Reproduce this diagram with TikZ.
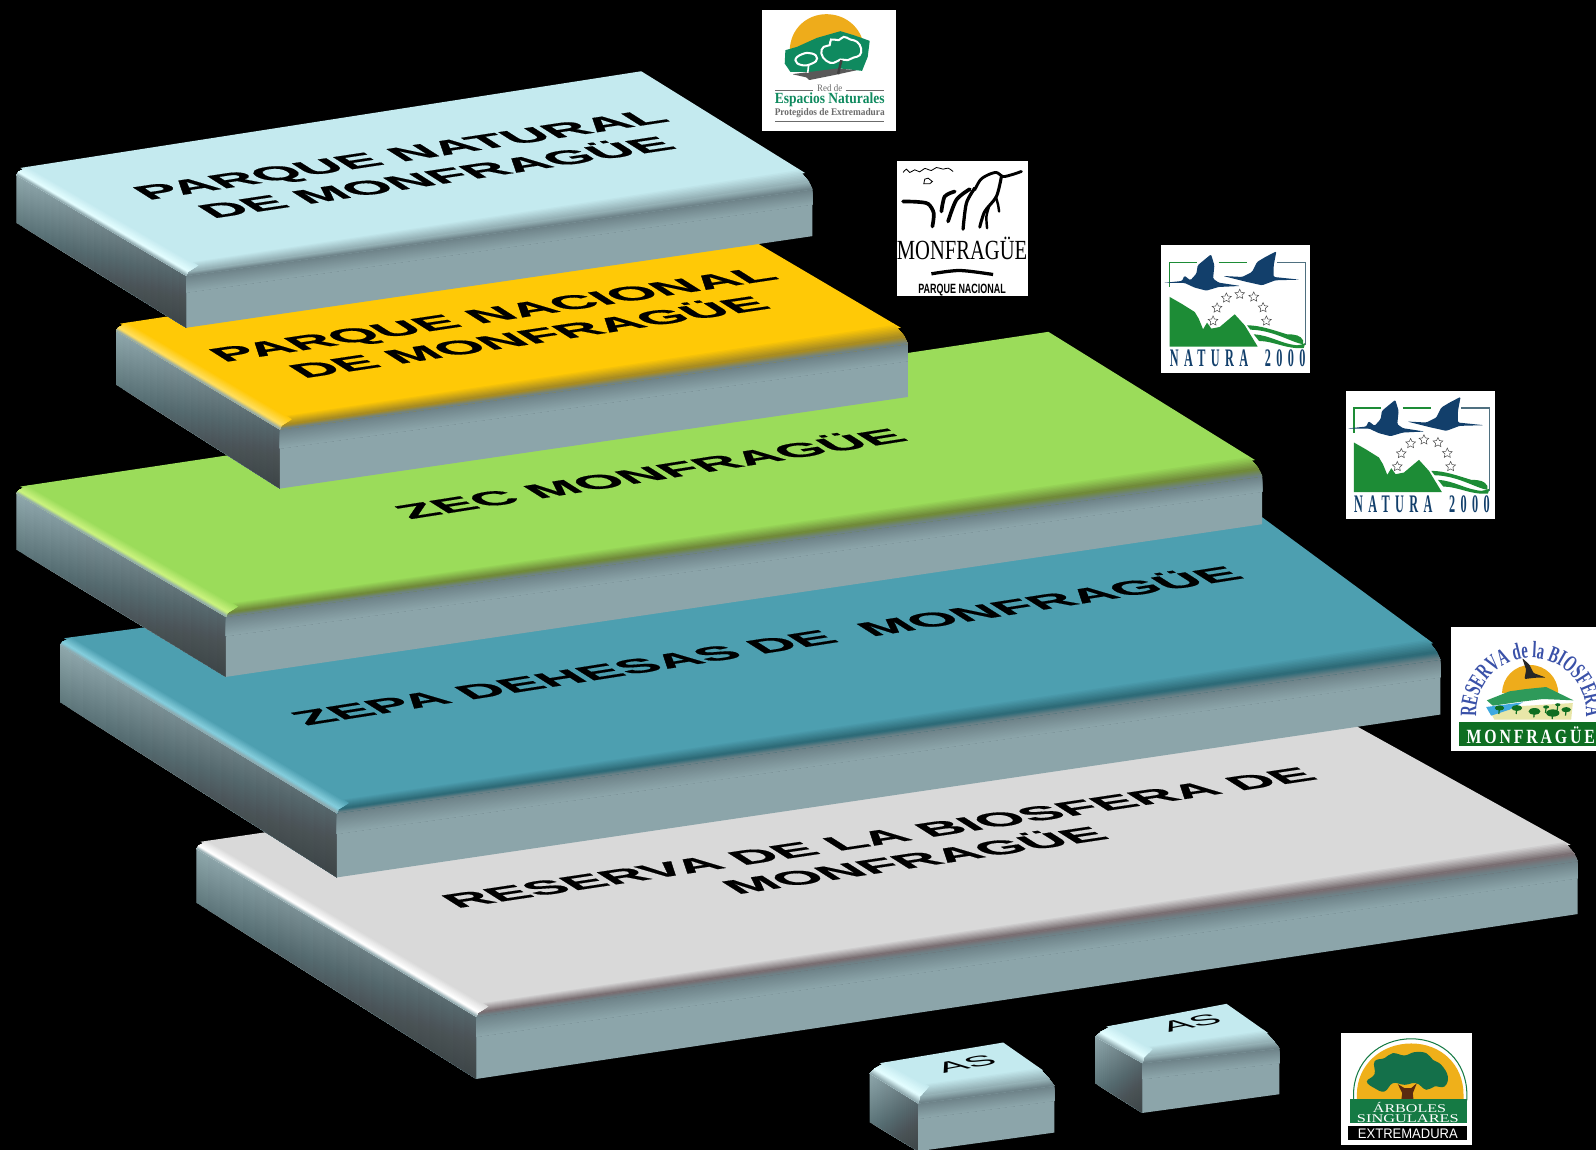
\documentclass[tikz,border=0pt]{standalone}
\usepackage{fontspec}
\usepackage{graphicx}
\setmainfont{Liberation Sans}
\newfontfamily\heavy[BoldFont={Liberation Sans Bold},BoldFeatures={FakeBold=0.6}]{Liberation Sans}
\newfontfamily\serifface{Liberation Serif}
\newfontfamily\natface[LetterSpace=35,FakeStretch=0.8]{Liberation Serif}
\newfontfamily\bioface[FakeStretch=0.62]{Liberation Serif}
\newfontfamily\barface[LetterSpace=18]{Liberation Serif}
\usetikzlibrary{calc,shapes.geometric,decorations.text}
\definecolor{sideA}{HTML}{8FA8AD}
\definecolor{sideB}{HTML}{57676C}
\definecolor{faceA}{HTML}{6E8389}
\definecolor{faceB}{HTML}{8CA5AA}
\definecolor{blueT}{HTML}{C4EAEF}\definecolor{blueH}{HTML}{E2FDFF}\definecolor{blueL}{HTML}{95B1B6}
\definecolor{yelT}{HTML}{FFC906}\definecolor{yelH}{HTML}{FFDE5C}\definecolor{yelL}{HTML}{A88C22}
\definecolor{greT}{HTML}{9BDC5A}\definecolor{greH}{HTML}{C9F27E}\definecolor{greL}{HTML}{708A3A}
\definecolor{teaT}{HTML}{4D9FB0}\definecolor{teaH}{HTML}{84CDDC}\definecolor{teaL}{HTML}{2E6B78}
\definecolor{graT}{HTML}{D9D9D9}\definecolor{graH}{HTML}{FFFFFF}\definecolor{graL}{HTML}{796E72}
\definecolor{natBlue}{HTML}{123F6B}\definecolor{natGreen}{HTML}{1D8C36}\definecolor{natFrame}{HTML}{4F7080}
\definecolor{espOrange}{HTML}{EEAC1B}\definecolor{espGreen}{HTML}{0F8A5F}\definecolor{espGray}{HTML}{6B6B6B}
\definecolor{bioBlue}{HTML}{3A51A8}\definecolor{bioGreen}{HTML}{0F6E22}\definecolor{bioHill}{HTML}{2E9A5A}\definecolor{bioWater}{HTML}{3FA9E0}\definecolor{bioSand}{HTML}{E8E6A8}
\definecolor{arbGreen}{HTML}{14704A}\definecolor{arbBrown}{HTML}{5A2A10}\definecolor{arbBar}{HTML}{157A44}\definecolor{arbSun}{HTML}{EFB01A}
\tikzset{
  planelabel/.style={font=\heavy\fontsize{20}{26}\selectfont\bfseries,text=black,align=center,inner sep=0pt},
  smalllabel/.style={font=\fontsize{20}{24}\selectfont,text=black,inner sep=0pt},
  logotext/.style={inner sep=0pt,outer sep=0pt},
  natstar/.style={star,star points=5,star point ratio=2.1,draw=black!70,fill=white,line width=.25pt,minimum size=5pt,inner sep=0pt},
}
\newcommand\gradquad[6]{%
  \foreach \i in {0,...,23}{%
    \pgfmathsetmacro\tt{\i/24}%
    \pgfmathsetmacro\mm{100*(1-\i/23)}%
    \fill[color=#5!\mm!#6] ($(#1)!\tt!(#3)$) -- ($(#2)!\tt!(#4)$) -- (#4) -- (#3) -- cycle;}}
\newcommand\gradfine[6]{%
  \foreach \i in {0,...,9}{%
    \pgfmathsetmacro\tt{\i/10}%
    \pgfmathsetmacro\mm{100*(1-\i/9)}%
    \fill[color=#5!\mm!#6] ($(#1)!\tt!(#3)$) -- ($(#2)!\tt!(#4)$) -- (#4) -- (#3) -- cycle;}}
\newcommand\darkquad[5]{%
  \foreach \i in {0,...,23}{%
    \pgfmathsetmacro\tt{\i/24}%
    \fill[black,opacity=#5] ($(#1)!\tt!(#3)$) -- ($(#2)!\tt!(#4)$) -- (#4) -- (#3) -- cycle;}}
\def\ofsL{-4,7}\def\ofsF{-4,9}\def\ofsR{7,16}\def\inn{4pt}
\newcommand\slabdraw[8]{%
  \coordinate (#1L) at (#2);\coordinate (#1B) at (#3);\coordinate (#1R) at (#4);\coordinate (#1F) at (#5);
  \coordinate (#1Lb) at ($(#1L)+(\ofsL)$);\coordinate (#1Fb) at ($(#1F)+(\ofsF)$);\coordinate (#1Rb) at ($(#1R)+(\ofsR)$);
  \coordinate (#1Ld) at ($(#1Lb)+(0,#6)$);\coordinate (#1Fd) at ($(#1Fb)+(0,#7)$);\coordinate (#1Rd) at ($(#1Rb)+(0,#8)$);
  \gradquad{#1Lb}{#1Ld}{#1Fb}{#1Fd}{sideA}{sideB}%
  \darkquad{#1Lb}{#1Fb}{#1Ld}{#1Fd}{.011}%
  \coordinate (#1Fm) at ($(#1Fb)!.32!(#1Fd)$);\coordinate (#1Rm) at ($(#1Rb)!.32!(#1Rd)$);
  \fill[faceB] (#1Fm) -- (#1Rm) -- (#1Rd) -- (#1Fd) -- cycle;
  \gradquad{#1Fb}{#1Rb}{#1Fm}{#1Rm}{faceA}{faceB}%
  \fill[\sT] (#1L) -- (#1B) -- (#1R) -- (#1F) -- cycle;
  % bevel toward the front: fades in from inside the top face
  \coordinate (#1Fl) at ($(#1F)!.55!(#1Fb)$);\coordinate (#1Rl) at ($(#1R)!.55!(#1Rb)$);
  \coordinate (#1Fi) at ($(#1F)!\inn!(#1L)$);\coordinate (#1Ri) at ($(#1R)!\inn!(#1B)$);
  \gradfine{#1Fi}{#1Ri}{#1Fl}{#1Rl}{\sT}{\sL}%
  \gradfine{#1Fl}{#1Rl}{#1Fb}{#1Rb}{\sL}{faceA}%
  % highlight on the left edge
  \coordinate (#1Lh) at ($(#1L)!.55!(#1Lb)$);\coordinate (#1Fh) at ($(#1F)!.55!(#1Fb)$);
  \coordinate (#1Lj) at ($(#1L)!\inn!(#1B)$);\coordinate (#1Fj) at ($(#1F)!\inn!(#1R)$);
  \gradfine{#1Lj}{#1Fj}{#1Lh}{#1Fh}{\sT}{\sH}%
  \gradfine{#1Lh}{#1Fh}{#1Lb}{#1Fb}{\sH}{sideA}%
}
\newcommand\plane[8]{\begin{scope}[shift={(#2,#3)}]\node[planelabel,cm={#4,#5,#6,#7,(0,0)},transform shape] (#1) at (0,0) {#8};\end{scope}}
\newcommand\asmark[3]{\begin{scope}[shift={(#2,#3)}]\node[smalllabel,cm={1.02,.19,-.39,.32,(0,0)},transform shape] (#1) at (0,0) {AS};\end{scope}}
\newcommand\fitw[2]{\resizebox{#1}{\height}{#2}}
\newcommand\naturalogo[3]{%
\begin{scope}[shift={(#2,#3)},scale=.3275,shift={(-63,-45)}]
  \fill[white] (63,45) rectangle (510,428);
  \draw[natGreen,line width=.7pt] (88,170) -- (88,97) -- (170,97);
  \draw[natGreen,line width=.7pt] (235,97) -- (320,97);
  \draw[natFrame,line width=.7pt] (410,97) -- (495,97) -- (495,345);
  \fill[natBlue,rounded corners=.6pt] (68,158) -- (125,152) -- (132,136) -- (150,150) -- (168,130) -- (172,105) -- (190,90) -- (212,72) -- (222,105) -- (218,145) -- (235,157) -- (300,167) -- (235,170) -- (198,181) -- (163,172) -- (133,158) -- cycle;
  \fill[natBlue,rounded corners=.6pt] (248,137) -- (305,140) -- (335,125) -- (350,95) -- (375,80) -- (408,63) -- (400,105) -- (400,140) -- (478,148) -- (405,150) -- (365,165) -- (320,155) -- (280,145) -- cycle;
  \fill[natGreen] (88,200) -- (123,220) -- (163,245) -- (175,265) -- (188,297) -- (200,277) -- (213,295) -- (238,290) -- (283,252) -- (313,285) -- (352,349) -- (88,349) -- cycle;
  \fill[natGreen] (320,285) .. controls (360,285) and (400,300) .. (440,312) .. controls (465,312) and (480,315) .. (488,330) -- (488,342) .. controls (450,335) and (400,300) .. (330,298) -- cycle;
  \fill[natGreen] (340,312) .. controls (390,315) and (420,340) .. (470,345) .. controls (480,345) and (490,340) .. (495,338) -- (490,353) .. controls (440,358) and (400,332) .. (356,332) -- cycle;
  \foreach \sx/\sy [count=\sn] in {218/272,230/233,258/203,298/192,340/200,368/232,378/272}
    \node[natstar] (#1s\sn) at (\sx,\sy) {};
  \node[logotext,text=natBlue] (#1t) at (292,385) {\fitw{66.6pt}{\natface\bfseries\fontsize{12.4}{13}\selectfont NATURA\ \ 2000}};
\end{scope}}
\begin{document}
\begin{tikzpicture}[x=.5pt,y=-.5pt]
\useasboundingbox (0,0) rectangle (1568,1129.8);
\fill[black] (0,0) rectangle (1568,1129.8);
\begin{scope}
\clip (0,0) rectangle (1568,1129.8);
\def\sT{graT}\def\sH{graH}\def\sL{graL}
\slabdraw{e}{197,827}{1258,672}{1543,830}{472,990}{53}{61}{52}
\def\sT{teaT}\def\sH{teaH}\def\sL{teaL}
\slabdraw{d}{63,627}{1195,475}{1408,632}{335,790}{56}{63}{54}
\def\sT{greT}\def\sH{greH}\def\sL{greL}
\slabdraw{c}{20,478}{1030,326}{1233,452}{226,597}{55}{59}{47}
\def\sT{yelT}\def\sH{yelH}\def\sL{yelL}
\slabdraw{b}{118,318}{722,226}{885,322}{279,413}{53}{58}{52}
\def\sT{blueT}\def\sH{blueH}\def\sL{blueL}
\slabdraw{a}{20,165}{630,70}{791,170}{187,262}{47}{51}{46}
\def\inn{3pt}
\def\ofsL{-10,10}\def\ofsF{-5,16}\def\ofsR{11,15}
\slabdraw{f}{864.4,1044.5}{985.6,1024.2}{1024.9,1051.7}{907,1068}{48}{47}{46}
\def\ofsL{-11,10}\def\ofsF{-4,13}\def\ofsR{11,15}
\slabdraw{g}{1087,1008.5}{1205,986.2}{1246,1015}{1126.4,1031.4}{46}{49}{45}
% labels
\plane{t1}{411}{163}{1.39}{.21}{-.68}{.43}{PARQUE NATURAL\\DE MONFRAGÜE}
\plane{t2}{502}{320}{1.40}{.21}{-.68}{.43}{PARQUE NACIONAL\\DE MONFRAGÜE}
\plane{t3}{637}{464}{1.39}{.22}{-.68}{.43}{ZEC MONFRAGÜE}
\plane{t4}{751}{633}{1.40}{.22}{-.68}{.43}{ZEPA DEHESAS DE \ MONFRAGÜE}
\plane{t5}{881}{834}{1.40}{.21}{-.68}{.43}{RESERVA DE LA BIOSFERA DE\\MONFRAGÜE}
\asmark{t6}{949}{1045}
\asmark{t7}{1170}{1005}
% Espacios Naturales logo
\begin{scope}[shift={(749,10)},scale=.3275,shift={(-66,-30)}]
  \fill[white] (66,30) rectangle (468,392);
  \fill[espOrange] (148,150) .. controls (150,85) and (200,42) .. (258,42) .. controls (310,42) and (355,75) .. (368,125) -- cycle;
  \fill[espGreen] (135,150) -- (170,140) -- (230,113) -- (300,93) -- (340,105) -- (388,122) -- (382,170) -- (365,212) -- (300,205) -- (230,215) -- (150,215) -- (133,190) -- cycle;
  \fill[black!65,rounded corners=.5pt] (155,222) -- (290,205) -- (350,210) -- (280,225) -- (205,240) -- (200,232) -- cycle;
  \draw[white,fill=espGreen,line width=1pt] plot[smooth cycle,tension=.8] coordinates {(243,160) (250,140) (268,135) (272,118) (295,120) (310,110) (330,118) (350,125) (362,145) (358,165) (340,172) (322,180) (300,178) (280,188) (258,182)};
  \draw[white,fill=espGreen,line width=1pt] plot[smooth cycle,tension=.85] coordinates {(165,180) (185,162) (215,160) (230,175) (215,190) (185,195)};
  \draw[black!75,line width=1.2pt] (303,180) -- (293,222);
  \draw[white,line width=.8pt] (205,192) -- (202,218);
  \draw[espGray,line width=.5pt] (104,272) -- (218,272) (316,272) -- (430,272);
  \draw[espGray,line width=.7pt] (104,364) -- (430,364);
  \node[logotext,text=espGray] (esp1) at (268,265) {\fitw{12.3pt}{\serifface\fontsize{4.8}{5}\selectfont Red de}};
  \node[logotext,text=espGreen] (esp2) at (268,300) {\fitw{54pt}{\serifface\bfseries\fontsize{7.6}{8}\selectfont Espacios Naturales}};
  \node[logotext,text=espGray] (esp3) at (268,340) {\fitw{54pt}{\serifface\bfseries\fontsize{5}{6}\selectfont Protegidos de Extremadura}};
\end{scope}
% Parque Nacional logo
\begin{scope}[shift={(881,158)},scale=.3275,shift={(-471,-483)}]
  \fill[white] (471,483) rectangle (864,890);
  \draw[black,line width=.4pt] plot[smooth] coordinates {(490,518) (500,508) (510,518) (525,510) (540,516) (555,506) (575,512) (590,503) (610,508) (625,505) (640,515)};
  \draw[black,line width=.4pt] (555,538) -- (552,552) -- (570,552) -- (578,545) -- (565,535) -- cycle;
  \draw[black,line width=1.8pt,line cap=round] plot[smooth] coordinates {(490,605) (530,606) (565,612) (582,640) (578,680)};
  \draw[black,line width=1.8pt,line cap=round] plot[smooth] coordinates {(645,575) (615,590) (605,635)};
  \draw[black,line width=1.8pt,line cap=round] plot[smooth] coordinates {(690,568) (650,600) (625,665)};
  \draw[black,line width=1.6pt,line cap=round] plot[smooth] coordinates {(705,565) (680,610) (670,688)};
  \draw[black,line width=1.4pt,line cap=round] plot[smooth] coordinates {(845,515) (815,525) (790,530) (770,518) (745,525) (722,540) (705,570)};
  \draw[black,line width=1.5pt,line cap=round] plot[smooth] coordinates {(785,530) (770,590) (735,635) (720,682)};
  \draw[black,line width=1.2pt,line cap=round] plot[smooth] coordinates {(768,590) (775,615) (778,635)};
  \draw[black,line width=1.2pt,line cap=round] plot[smooth] coordinates {(748,620) (740,650) (742,685)};
  \draw[black,line width=1.6pt] plot[smooth] coordinates {(575,822) (660,812) (760,824)};
  \node[logotext,text=black] (pn1) at (667,745) {\fitw{64pt}{\serifface\fontsize{13.6}{14}\selectfont MONFRAGÜE}};
  \node[logotext,text=black] (pn2) at (667,872) {\fitw{43pt}{\bfseries\fontsize{6.6}{7}\selectfont PARQUE NACIONAL}};
\end{scope}
\naturalogo{na}{1141}{241}
\naturalogo{nb}{1322}{384}
% Biosfera logo
\begin{scope}[shift={(1426,616)},scale=.3275,shift={(-66,-52)}]
  \fill[white] (66,52) rectangle (500,425);
  \path[decorate,decoration={text along path,text align=center,text={|\bioface\bfseries\fontsize{11.5}{12}\selectfont\color{bioBlue}|RESERVA de la BIOSFERA}}] (140,310) arc[start angle=180,end angle=360,radius=165];
  \fill[espOrange] (218,250) arc[start angle=180,end angle=360,radius=84] -- cycle;
  \fill[bioSand] (175,295) -- (430,280) -- (425,330) -- (195,330) -- cycle;
  \fill[bioWater] (170,292) -- (280,278) -- (240,300) -- (185,318) -- cycle;
  \fill[bioHill] (172,272) -- (240,245) -- (290,238) -- (350,232) -- (432,272) -- (340,268) -- (260,278) -- (190,288) -- cycle;
  \fill[black!85,rounded corners=.5pt] (278,145) -- (300,165) -- (312,190) -- (350,204) -- (320,204) -- (285,208) -- (290,180) -- cycle;
  \foreach \tx/\ty/\tr [count=\tn] in {210/295/14,262/295/16,315/305/18,370/310/20,410/300/14,350/292/9,385/285/8}{
    \fill[bioGreen] (\tx,\ty) ellipse[x radius=\tr,y radius=.55*\tr];
    \draw[bioGreen,line width=.6pt] (\tx,\ty) -- (\tx-2,\ty+18);}
  \fill[bioGreen] (88,338) rectangle (500,410);
  \node[logotext,text=white] (bio1) at (304,378) {\fitw{63pt}{\barface\bfseries\fontsize{9.9}{10}\selectfont MONFRAGÜE}};
\end{scope}
% Arboles Singulares logo
\begin{scope}[shift={(1317,1015)},scale=.3275,shift={(-33,-25)}]
  \fill[white] (33,25) rectangle (428,362);
  \draw[arbBar,fill=white,line width=.5pt] (72,225) -- (72,210) .. controls (72,110) and (150,42) .. (245,42) .. controls (340,42) and (412,110) .. (412,210) -- (412,225) -- cycle;
  \fill[arbSun] (82,225) -- (82,210) .. controls (82,120) and (155,56) .. (245,56) .. controls (335,56) and (402,120) .. (402,210) -- (402,225) -- cycle;
  \fill[arbBrown] (205,178) -- (225,190) -- (245,190) -- (262,175) -- (250,205) -- (252,228) -- (215,228) -- (218,205) -- cycle;
  \fill[arbGreen] plot[smooth cycle,tension=.7] coordinates {(112,170) (135,148) (135,110) (165,100) (190,85) (225,92) (255,82) (290,85) (310,105) (335,120) (355,155) (345,185) (315,185) (290,195) (260,175) (225,180) (190,175) (165,200) (135,190)};
  \fill[arbBar] (60,224) rectangle (412,296);
  \fill[black] (55,305) rectangle (412,346);
  \node[logotext,text=white,anchor=base] (ar1) at (240,262) {\fitw{36pt}{\serifface\fontsize{5.8}{6}\selectfont ÁRBOLES}};
  \node[logotext,text=white,anchor=base] (ar2) at (235,292) {\fitw{50pt}{\serifface\fontsize{5.8}{6}\selectfont SINGULARES}};
  \node[logotext,text=white,anchor=base] (ar3) at (235,341) {\fitw{49pt}{\fontsize{6.8}{7}\selectfont EXTREMADURA}};
\end{scope}
\end{scope}
\end{tikzpicture}
\end{document}
